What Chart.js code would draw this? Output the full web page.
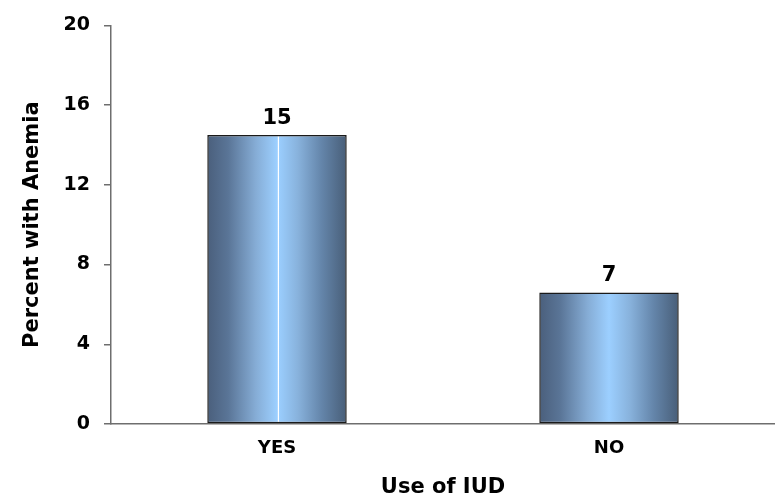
<!DOCTYPE html>
<html>
<head>
<meta charset="utf-8">
<script src="https://cdn.jsdelivr.net/npm/chart.js@4/dist/chart.umd.min.js"></script>
<style>
  html, body { margin: 0; padding: 0; background: #fff; }
  #wrap { width: 775px; height: 496px; position: relative; }
</style>
</head>
<body>
<div id="wrap"><canvas id="myChart"></canvas></div>
<script>
// data
var categories = ['YES', 'NO'];
var percentAnemia = [14.5, 6.6];
var yTicks = [0, 4, 8, 12, 16, 20];

var FONT = "'DejaVu Sans', Verdana, sans-serif";
var BAR_PCT = 0.42;

// horizontal "cylinder" shading for each bar
function barGradient(context) {
    var chart = context.chart;
    var xs = chart.scales && chart.scales.x;
    if (!xs || context.dataIndex === undefined) return '#8ab5e0';
    var cx = xs.getPixelForTick(context.dataIndex);
    var half = (xs.width / categories.length) * BAR_PCT / 2;
    if (!isFinite(cx) || !isFinite(half) || half <= 0) return '#8ab5e0';
    var g = chart.ctx.createLinearGradient(cx - half, 0, cx + half, 0);
    g.addColorStop(0, '#4a5f7c');
    g.addColorStop(0.15, '#5a7597');
    g.addColorStop(0.35, '#86add6');
    g.addColorStop(0.5, '#9ccfff');
    if (context.dataIndex === 0) {
        // the thin light seam seen on the first bar
        g.addColorStop(0.503, '#9ccfff');
        g.addColorStop(0.506, '#ffffff');
        g.addColorStop(0.512, '#ffffff');
        g.addColorStop(0.515, '#9acdfd');
    }
    g.addColorStop(0.65, '#88b2dc');
    g.addColorStop(0.82, '#6485aa');
    g.addColorStop(1, '#485e78');
    return g;
}

// value labels above bars
var valueLabels = {
    id: 'valueLabels',
    afterDatasetsDraw: function(chart) {
        var ctx = chart.ctx;
        var meta = chart.getDatasetMeta(0);
        ctx.save();
        ctx.font = 'bold 21px ' + FONT;
        ctx.fillStyle = '#000';
        ctx.textAlign = 'center';
        ctx.textBaseline = 'alphabetic';
        meta.data.forEach(function(bar, i) {
            ctx.fillText(Math.round(percentAnemia[i]), bar.x, bar.y - 11);
        });
        ctx.restore();
    }
};

var ctx = document.getElementById('myChart').getContext('2d');
var chart = new Chart(ctx, {
    type: 'bar',
    data: {
        labels: categories,
        datasets: [{
            data: percentAnemia,
            backgroundColor: barGradient,
            borderColor: '#1a1a1a',
            borderWidth: 1.5,
            borderSkipped: false,
            barPercentage: BAR_PCT,
            categoryPercentage: 1
        }]
    },
    options: {
        responsive: true,
        maintainAspectRatio: false,
        animation: false,
        layout: { padding: { top: 23, right: 0, left: 0, bottom: 0 } },
        plugins: {
            legend: { display: false },
            tooltip: { enabled: false }
        },
        scales: {
            x: {
                grid: { display: false, drawTicks: false },
                border: { display: true, color: '#6e6e6e', width: 1.5 },
                ticks: {
                    color: '#000',
                    padding: 14,
                    font: { family: FONT, size: 18, weight: 'bold' }
                },
                title: {
                    display: true,
                    text: 'Use of IUD',
                    color: '#000',
                    padding: { top: 0, bottom: -4 },
                    font: { family: FONT, size: 21, weight: 'bold' }
                },
                afterFit: function(scale) { scale.height = 72; }
            },
            y: {
                min: 0,
                max: 20,
                afterBuildTicks: function(scale) {
                    scale.ticks = yTicks.map(function(v) { return { value: v }; });
                },
                grid: {
                    drawOnChartArea: false,
                    drawTicks: true,
                    tickLength: 7,
                    tickColor: '#6e6e6e',
                    lineWidth: 1.5
                },
                border: { display: true, color: '#6e6e6e', width: 1.5 },
                ticks: {
                    color: '#000',
                    padding: 14,
                    font: { family: FONT, size: 19, weight: 'bold' }
                },
                title: {
                    display: true,
                    text: 'Percent with Anemia',
                    color: '#000',
                    padding: { top: 20, bottom: 0 },
                    font: { family: FONT, size: 21, weight: 'bold' }
                },
                afterFit: function(scale) { scale.width = 111; }
            }
        }
    },
    plugins: [valueLabels]
});
</script>
</body>
</html>
